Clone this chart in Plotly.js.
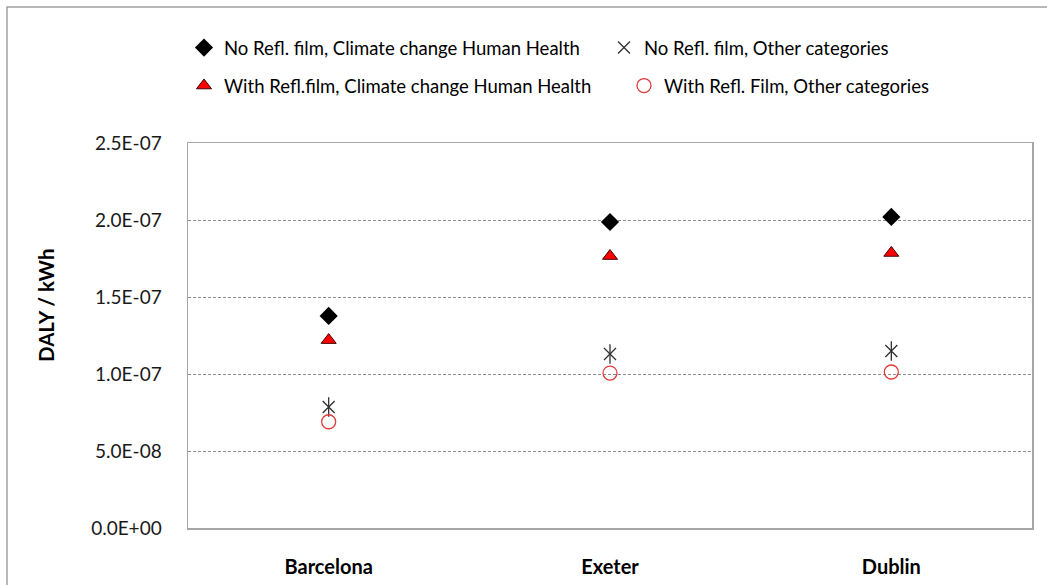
<!DOCTYPE html>
<html>
<head>
<meta charset="utf-8">
<script src="https://cdn.plot.ly/plotly-3.0.1.min.js"></script>
<style>
html,body{margin:0;padding:0;background:#fff;}
#chart{width:1047px;height:585px;}
</style>
</head>
<body>
<div id="chart"></div>
<script>
// ---- data ----
var cities = ["Barcelona", "Exeter", "Dublin"];
var noFilmClimate = [1.377e-7, 1.987e-7, 2.02e-7];
var noFilmOther = [0.786e-7, 1.13e-7, 1.149e-7];
var withFilmClimate = [1.22e-7, 1.766e-7, 1.786e-7];
var withFilmOther = [0.69e-7, 1.006e-7, 1.013e-7];
var seriesNames = [
  "No Refl. film, Climate change Human Health",
  "No Refl. film, Other categories",
  "With Refl.film, Climate change Human Health",
  "With Refl. Film, Other categories"
];
var yTitle = "DALY / kWh";
var yTickVals = [0, 0.5e-7, 1.0e-7, 1.5e-7, 2.0e-7, 2.5e-7];
var yTickText = ["0.0E+00", "5.0E-08", "1.0E-07", "1.5E-07", "2.0E-07", "2.5E-07"];

var FONT = "Lato, 'Open Sans', sans-serif";

var traces = [
  {
    type: "scatter", mode: "markers", x: cities, y: noFilmClimate,
    name: seriesNames[0], legend: "legend",
    marker: {symbol: "diamond", size: 14, color: "#000000", line: {width: 0}}
  },
  {
    type: "scatter", mode: "markers", x: cities, y: noFilmOther,
    name: seriesNames[1], legend: "legend2",
    marker: {symbol: "x-thin-open", size: 12, color: "#303030", line: {width: 1.3, color: "#303030"}}
  },
  {
    type: "scatter", mode: "markers", x: cities, y: noFilmOther,
    name: seriesNames[1], showlegend: false, hoverinfo: "skip",
    marker: {symbol: "line-ns-open", size: 14, color: "#303030", line: {width: 1.3, color: "#303030"}}
  },
  {
    type: "scatter", mode: "markers", x: cities, y: withFilmClimate,
    name: seriesNames[2], legend: "legend3",
    marker: {symbol: "triangle-up", size: 13, color: "#ff0000", line: {width: 1, color: "#400000"}}
  },
  {
    type: "scatter", mode: "markers", x: cities, y: withFilmOther,
    name: seriesNames[3], legend: "legend4",
    marker: {symbol: "circle-open", size: 14, color: "#e03c3c", line: {width: 1.3, color: "#e03c3c"}}
  }
];

function leg(x, y) {
  return {
    xref: "container", yref: "container",
    x: x / 1047, y: 1 - y / 585, xanchor: "left", yanchor: "middle",
    bgcolor: "rgba(0,0,0,0)", borderwidth: 0,
    font: {family: FONT, size: 18.5, color: "#000000"},
    itemwidth: 30
  };
}

var L = 188, R = 1032, T = 143, B = 528;
var W = R - L, H = B - T;

var layout = {
  width: 1047, height: 585,
  margin: {l: L, r: 1047 - R, t: T, b: 585 - B, pad: 0, autoexpand: false},
  paper_bgcolor: "#ffffff", plot_bgcolor: "#ffffff",
  font: {family: FONT, size: 17, color: "#000000"},
  showlegend: true,
  legend: leg(184, 48),
  legend2: leg(604, 48),
  legend3: leg(184, 86),
  legend4: leg(624, 86),
  xaxis: {
    type: "category", range: [-0.5, 2.5],
    showgrid: false, zeroline: false,
    showline: true, linecolor: "#a6a6a6", linewidth: 1.5, mirror: true,
    ticks: "", tickfont: {family: FONT, size: 20, color: "#000000", weight: "bold"},
    ticklabelstandoff: 20
  },
  yaxis: {
    range: [0, 2.5e-7],
    tickvals: yTickVals, ticktext: yTickText,
    showgrid: true, gridcolor: "#8c8c8c", griddash: "3px,2px", gridwidth: 1,
    zeroline: false,
    showline: true, linecolor: "#a6a6a6", linewidth: 1.5, mirror: true,
    ticks: "", tickfont: {family: FONT, size: 19, color: "#1a1a1a"},
    ticklabelstandoff: 21
  },
  annotations: [
    {
      text: yTitle, textangle: -90, showarrow: false,
      xref: "paper", yref: "paper",
      x: (46 - L) / W, y: (B - 306) / H, xanchor: "center", yanchor: "middle",
      font: {family: FONT, size: 20.5, color: "#000000", weight: "bold"}
    }
  ],
  shapes: [
    {
      type: "rect", xref: "paper", yref: "paper", layer: "below",
      x0: (7 - L) / W, x1: (1100 - L) / W,
      y0: (B - 620) / H, y1: (B - 7) / H,
      line: {color: "#a0a0a0", width: 1.5}, fillcolor: "rgba(0,0,0,0)"
    }
  ]
};

Plotly.newPlot("chart", traces, layout, {displayModeBar: false, staticPlot: true});
</script>
</body>
</html>
